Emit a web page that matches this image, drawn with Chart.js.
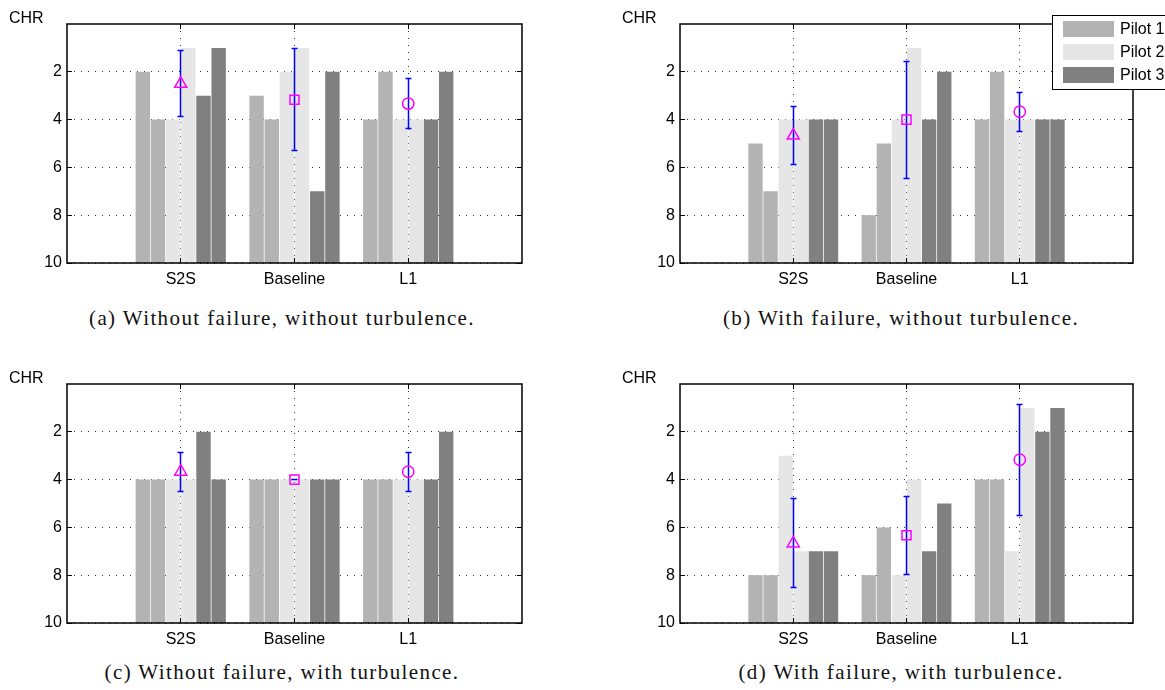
<!DOCTYPE html>
<html>
<head>
<meta charset="utf-8">
<script src="https://cdn.jsdelivr.net/npm/chart.js@4.4.0/dist/chart.umd.min.js"></script>
<style>
  body { margin: 0; background: #fff; }
  #page { position: relative; width: 1165px; height: 690px; overflow: hidden; background: #fff; }
  canvas { position: absolute; }
  .caption {
    position: absolute;
    font-family: "Liberation Serif", serif;
    font-size: 21px;
    line-height: 21px;
    letter-spacing: 1.4px;
    color: #111;
    text-align: center;
    white-space: nowrap;
  }
</style>
</head>
<body>
<div id="page">
  <canvas id="chartA" width="583" height="300" style="left:0;top:0"></canvas>
  <canvas id="chartB" width="582" height="300" style="left:583px;top:0"></canvas>
  <canvas id="chartC" width="583" height="300" style="left:0;top:360px"></canvas>
  <canvas id="chartD" width="582" height="300" style="left:583px;top:360px"></canvas>
  <div class="caption" style="left:0;top:308px;width:564px">(a) Without failure, without turbulence.</div>
  <div class="caption" style="left:641px;top:308px;width:520px">(b) With failure, without turbulence.</div>
  <div class="caption" style="left:0;top:662px;width:564px">(c) Without failure, with turbulence.</div>
  <div class="caption" style="left:641px;top:662px;width:520px">(d) With failure, with turbulence.</div>
</div>
<script>
// Cooper-Harper ratings, two runs per pilot: [P1, P1, P2, P2, P3, P3]
const categories = ['S2S', 'Baseline', 'L1'];
const pilots = ['Pilot 1', 'Pilot 2', 'Pilot 3'];
const pilotColors = ['#b3b3b3', '#e6e6e6', '#808080'];
const yTickValues = [2, 4, 6, 8, 10];

// (a) without failure, without turbulence
const chrA = [[2, 4, 4, 1, 3, 1], [3, 4, 2, 1, 7, 2], [4, 2, 4, 4, 4, 2]];
const meanA = [2.5, 3.17, 3.33];
const sdA = [1.38, 2.14, 1.03];

// (b) with failure, without turbulence
const chrB = [[5, 7, 4, 4, 4, 4], [8, 5, 4, 1, 4, 2], [4, 2, 4, 4, 4, 4]];
const meanB = [4.67, 4.0, 3.67];
const sdB = [1.21, 2.45, 0.82];

// (c) without failure, with turbulence
const chrC = [[4, 4, 4, 4, 2, 4], [4, 4, 4, 4, 4, 4], [4, 4, 4, 4, 4, 2]];
const meanC = [3.67, 4.0, 3.67];
const sdC = [0.82, 0, 0.82];

// (d) with failure, with turbulence
const chrD = [[8, 8, 3, 7, 7, 7], [8, 6, 8, 4, 7, 5], [4, 4, 7, 1, 2, 1]];
const meanD = [6.67, 6.33, 3.17];
const sdD = [1.86, 1.63, 2.32];

Chart.defaults.font.family = '"Liberation Sans", Arial, sans-serif';
Chart.defaults.color = '#000';

// snap to the same pixel column Chart.js uses for 1px grid lines
const crisp = v => Math.round(v - 0.5) + 0.5;

// error bars, axes box with inner ticks, CHR label and legend
const panelDecor = {
    id: 'panelDecor',
    beforeDatasetDraw(chart, args) {
        const ds = chart.data.datasets[args.index];
        if (!ds.sd) return;
        const y = chart.scales.y;
        const ctx = chart.ctx;
        const points = chart.getDatasetMeta(args.index).data;
        ctx.save();
        ctx.setLineDash([]);
        ctx.strokeStyle = '#0000ff';
        ctx.lineWidth = 1.5;
        ds.data.forEach((pt, i) => {
            const px = crisp(points[i].x);
            const top = crisp(y.getPixelForValue(pt.y - ds.sd[i]));
            const bot = crisp(y.getPixelForValue(pt.y + ds.sd[i]));
            ctx.beginPath();
            ctx.moveTo(px, top);
            ctx.lineTo(px, bot);
            ctx.moveTo(px - 3, top);
            ctx.lineTo(px + 3, top);
            ctx.moveTo(px - 3, bot);
            ctx.lineTo(px + 3, bot);
            ctx.stroke();
        });
        ctx.restore();
    },
    afterDraw(chart, args, opts) {
        const { left, right, top, bottom } = chart.chartArea;
        const { x, y } = chart.scales;
        const ctx = chart.ctx;
        ctx.save();
        ctx.setLineDash([]);
        ctx.strokeStyle = '#000';
        ctx.lineWidth = 1;
        ctx.beginPath();
        yTickValues.forEach(v => {
            const py = crisp(y.getPixelForValue(v));
            ctx.moveTo(left, py);
            ctx.lineTo(left + 5, py);
            ctx.moveTo(right, py);
            ctx.lineTo(right - 5, py);
        });
        categories.forEach(c => {
            const px = crisp(x.getPixelForValue(x.parse(c)));
            ctx.moveTo(px, top);
            ctx.lineTo(px, top + 5);
            ctx.moveTo(px, bottom);
            ctx.lineTo(px, bottom - 5);
        });
        ctx.stroke();
        ctx.lineWidth = 1.5;
        ctx.strokeRect(left, top, right - left, bottom - top);

        ctx.fillStyle = '#000';
        ctx.font = '16px "Liberation Sans", Arial, sans-serif';
        ctx.textBaseline = 'alphabetic';
        ctx.textAlign = 'left';
        ctx.fillText('CHR', left - 58, top - 1);

        if (opts.legend) {
            const bx = right - 81, by = top - 9;
            ctx.fillStyle = '#fff';
            ctx.fillRect(bx, by, 130, 74);
            ctx.lineWidth = 1;
            ctx.strokeRect(bx + 0.5, by + 0.5, 130, 74);
            ctx.textBaseline = 'middle';
            pilots.forEach((name, i) => {
                const cy = by + 14 + i * 23;
                ctx.fillStyle = pilotColors[i];
                ctx.fillRect(bx + 11, cy - 8, 51, 16);
                ctx.fillStyle = '#000';
                ctx.fillText(name, bx + 68, cy + 1);
            });
        }
        ctx.restore();
    }
};

function makePanel(id, chr, mean, sd, yWidth, padRight, legend) {
    const xLabels = ['', ...categories, ''];
    const datasets = [];
    for (let r = 0; r < 6; r++) {
        const p = Math.floor(r / 2);
        datasets.push({
            type: 'bar',
            label: pilots[p],
            data: categories.map((c, i) => ({ x: c, y: [10, chr[i][r]] })),
            backgroundColor: pilotColors[p],
            borderWidth: 0,
            barPercentage: 0.95,
            categoryPercentage: 0.8,
        });
    }
    datasets.push({
        type: 'line',
        label: 'mean',
        data: categories.map((c, i) => ({ x: c, y: mean[i] })),
        sd: sd,
        order: -1,
        showLine: false,
        pointStyle: ['triangle', 'rect', 'circle'],
        pointRadius: [7, 6.4, 5.7],
        pointBorderColor: '#ff00ff',
        pointBackgroundColor: 'rgba(0,0,0,0)',
        pointBorderWidth: 1.5,
    });

    new Chart(document.getElementById(id), {
        type: 'bar',
        data: { labels: xLabels, datasets: datasets },
        options: {
            responsive: false,
            animation: false,
            layout: { padding: { left: 0, top: 24, right: padRight, bottom: 0 } },
            plugins: {
                legend: { display: false },
                tooltip: { enabled: false },
                panelDecor: { legend: legend },
            },
            scales: {
                x: {
                    type: 'category',
                    offset: false,
                    grid: {
                        offset: false,
                        drawTicks: false,
                        color: ctx => (ctx.index === 0 || ctx.index === xLabels.length - 1) ? 'rgba(0,0,0,0)' : '#333',
                    },
                    border: { display: false, dash: [1, 6] },
                    ticks: { font: { size: 16 }, padding: 7, autoSkip: false, maxRotation: 0 },
                    afterFit: s => { s.height = 37; },
                },
                y: {
                    min: 0,
                    max: 10,
                    reverse: true,
                    afterBuildTicks: s => { s.ticks = yTickValues.map(v => ({ value: v })); },
                    grid: { drawTicks: false, color: '#333' },
                    border: { display: false, dash: [1, 6] },
                    ticks: { font: { size: 16 }, padding: 5 },
                    afterFit: s => { s.width = yWidth; },
                },
            },
        },
        plugins: [panelDecor],
    });
}

makePanel('chartA', chrA, meanA, sdA, 67, 61, false);
makePanel('chartB', chrB, meanB, sdB, 97, 32, true);
makePanel('chartC', chrC, meanC, sdC, 67, 61, false);
makePanel('chartD', chrD, meanD, sdD, 97, 32, false);
</script>
</body>
</html>
